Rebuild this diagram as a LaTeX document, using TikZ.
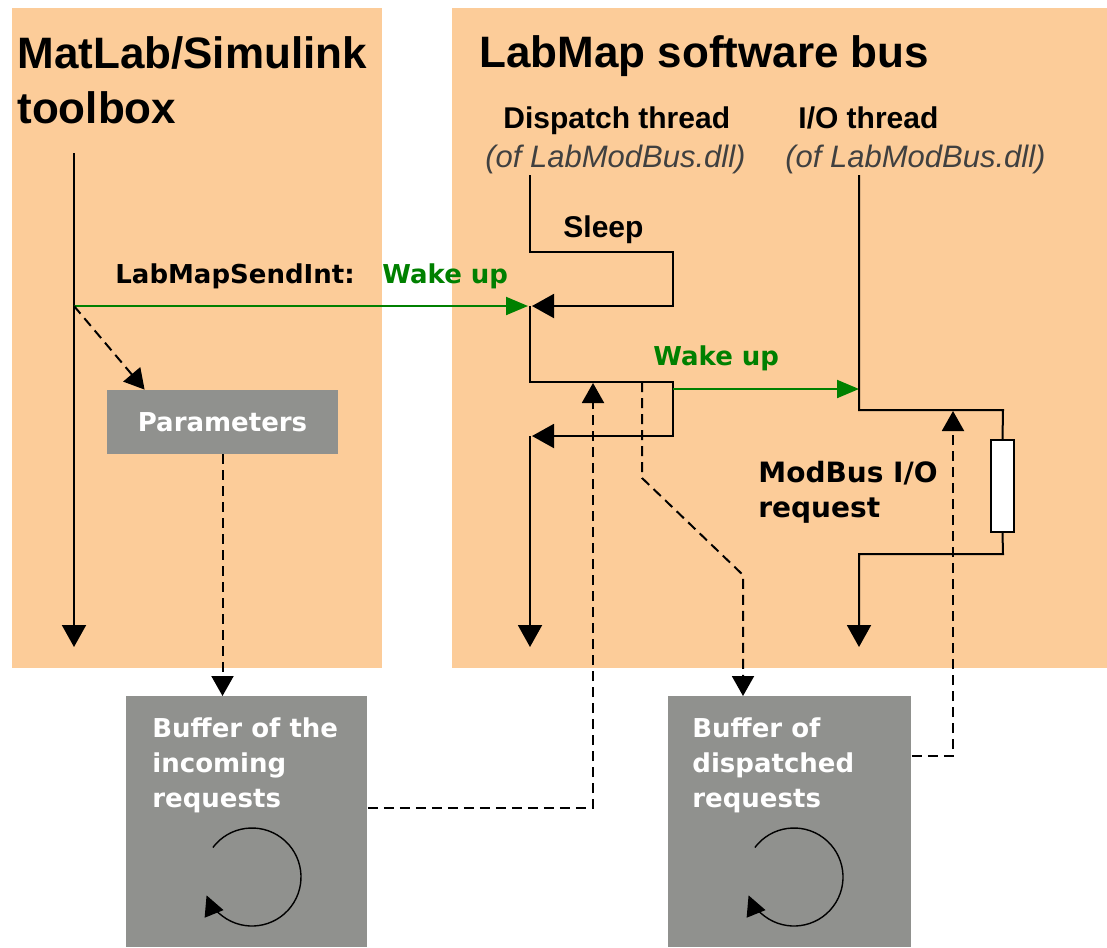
\documentclass[tikz,border=0pt]{standalone}
\usepackage{fontspec}
\setmainfont{Liberation Sans}
\newfontfamily\dejavu{DejaVu Sans}
\usetikzlibrary{arrows.meta,positioning}

\definecolor{peach}{RGB}{252,204,153}
\definecolor{boxgray}{RGB}{144,145,142}
\definecolor{wakegreen}{RGB}{0,128,0}

\tikzset{
    panel/.style={fill=peach},
    title/.style={anchor=base west, inner sep=0pt, align=left, font=\bfseries\fontsize{22}{27.5}\selectfont},
    thread/.style={anchor=base west, inner sep=0pt, font=\bfseries\fontsize{15}{18}\selectfont},
    dll/.style={anchor=base west, inner sep=0pt, text=black!75, font=\itshape\fontsize{15.5}{18}\selectfont},
    lbl/.style={anchor=base west, inner sep=0pt, align=left, font={\dejavu\bfseries\fontsize{13}{17.5}\selectfont}},
    gbox/.style={fill=boxgray, inner sep=0pt, text=white, font={\dejavu\bfseries\fontsize{13}{17.5}\selectfont}},
    btext/.style={lbl, text=white},
    wire/.style={line width=1pt},
    flow/.style={line width=1pt, -{Triangle[length=11pt,width=12pt]}},
    wakeline/.style={line width=1pt, draw=wakegreen, -{Triangle[length=11pt,width=9pt]}},
    dflow/.style={line width=1pt, dash pattern=on 5pt off 3pt, -{Triangle[length=10pt,width=11pt]}},
    cyc/.style={line width=0.7pt, -{Triangle[length=10pt,width=10pt]}}
}

\begin{document}
\begin{tikzpicture}[x=0.5pt, y=0.5pt]
    \useasboundingbox (0,0) rectangle (1107,-947);
    % panels
    \fill[panel] (12,-8) rectangle (382,-668);
    \fill[panel] (452,-8) rectangle (1107,-668);

    % multi-line texts sit on the baseline of their last line
    \node[title] (tmatlab) at (17,-123) {MatLab/Simulink\\toolbox};
    \node[title] (tlabmap) at (479,-68) {LabMap software bus};

    \node[thread] (dthread) at (503,-128) {Dispatch thread};
    \node[dll] (ddll) at (485,-167) {(of LabModBus.dll)};
    \node[thread] (iothread) at (798,-128) {I/O thread};
    \node[dll] (iodll) at (785,-167) {(of LabModBus.dll)};
    \node[thread] (sleep) at (563,-237) {Sleep};

    % buffers and parameters
    \node[gbox, minimum width=115.5pt, minimum height=32pt] (params) at (222.5,-422) {Parameters};
    \node[gbox, anchor=north west, minimum width=120.5pt, minimum height=125.5pt] (bufin) at (126,-696) {};
    \node[gbox, anchor=north west, minimum width=121.5pt, minimum height=125.5pt] (bufout) at (668,-696) {};
    \node[btext] (bufintext) at (152,-807) {Buffer of the\\incoming\\requests};
    \node[btext] (bufouttext) at (692,-807) {Buffer of\\dispatched\\requests};

    \node[draw, fill=white, line width=1pt, inner sep=0pt, minimum width=11.5pt, minimum height=46pt] (modreq) at (1002.5,-486) {};

    \node[lbl] (sendint) at (115,-283) {LabMapSendInt:};
    \node[lbl, text=wakegreen] (wake1) at (382,-283) {Wake up};
    \node[lbl, text=wakegreen] (wake2) at (653,-365) {Wake up};
    \node[lbl, font={\dejavu\bfseries\fontsize{14}{17.5}\selectfont}] (modbus) at (758,-517) {ModBus I/O\\request};

    \coordinate (mtop) at (74,-153);
    \coordinate (mfork) at (74,-306);
    \coordinate (dtop) at (530,-175);
    \coordinate (dsleep) at (530,-306);
    \coordinate (dsend) at (530,-382);
    \coordinate (dback) at (530,-436);
    \coordinate (iotop) at (859,-175);
    \coordinate (iosend) at (859,-410);
    \coordinate (ioback) at (859,-554);

    % simulink thread
    \draw[flow] (mtop) -- (74,-647);
    \draw[wakeline] (mfork) -- ([xshift=-1pt]dsleep);
    \draw[dflow] (mfork) -- ([xshift=19pt]params.north west);
    \draw[dflow] (params.south) -- (params.south |- bufin.north);

    % dispatch thread
    \draw[flow] (dtop) -- (530,-252) -- (673,-252) -- (673,-306) -- ([xshift=1pt]dsleep);
    \draw[flow] (dsleep) -- (dsend) -- (673,-382) -- (673,-436) -- ([xshift=1pt]dback);
    \draw[flow] (dback) -- (530,-647);
    \draw[wakeline] (673,-389) -- (iotop |- 0,-389);

    % i/o thread
    \draw[wire] (iotop) -- (iosend) -- (1003,-410) -- (modreq.north);
    \draw[flow] (modreq.south) -- (1003,-554) -- (ioback) -- (859,-647);

    % dashed data paths
    \draw[dflow] (bufin.east |- 0,-808) -- (593,-808) -- (593,-383);
    \draw[dflow] (642,-382) -- (642,-478) -- (743,-575) -- (743,0 |- bufout.north);
    \draw[dflow] (bufout.east |- 0,-756) -- (953,-756) -- (953,-411);

    % ring buffers
    \draw[cyc] (252,-877) ++(143:49) arc[start angle=143, end angle=-158, radius=49];
    \draw[cyc] (794,-877) ++(143:49) arc[start angle=143, end angle=-158, radius=49];
\end{tikzpicture}
\end{document}
